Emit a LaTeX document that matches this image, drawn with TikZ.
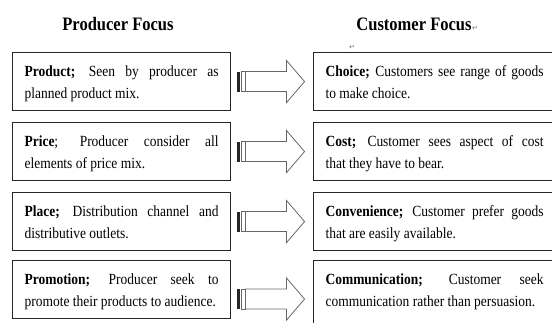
\documentclass[tikz,border=0pt]{standalone}
\usepackage{fontspec}
\setmainfont{Liberation Serif}[FakeStretch=0.87]
\newfontfamily\markfont{DejaVu Sans}
\usetikzlibrary{calc}

\tikzset{
  heading/.style={font=\fontsize{19}{22}\selectfont\bfseries, inner sep=0pt, anchor=base},
  pmark/.style={font=\markfont\fontsize{7}{7}\selectfont, text=black!55, inner sep=0pt},
  mixbox/.style={draw=black!85, line width=1.1pt, anchor=north west, align=justify,
    font=\fontsize{15.5}{22}\selectfont, inner xsep=12pt, inner ysep=12pt,
    text height=12pt, text depth=22pt},
  barrow/.style={draw=black!60, line width=0.8pt, fill=white},
}

% block arrow with two bars at its tail, halfway between two boxes
\newcommand{\mixarrow}[2]{%
  \coordinate (mid) at ($(#1.east)!0.5!(#2.west)$);
  \begin{scope}[shift={(mid)}]
    \fill[black!85] (-35.5,-10) rectangle (-32,10);
    \draw[barrow] (-30.5,-10) rectangle (-26.5,10);
    \draw[barrow] (-26.5,-10) -- (14.5,-10) -- (14.5,-21) -- (32.5,0)
      -- (14.5,21) -- (14.5,10) -- (-26.5,10) -- cycle;
  \end{scope}}

\begin{document}
\begin{tikzpicture}[x=1pt,y=-1pt]

  \useasboundingbox (0,0) rectangle (552,322);
  \clip (0,0) rectangle (552,322);

  \node[heading] (prodhead) at (118,30) {Producer Focus};
  \node[heading] (custhead) at (414,30) {Customer Focus};
  \node[pmark, anchor=base west] at (custhead.base east) {↵};
  \node[pmark] at (352,47) {↵};

  \begin{scope}[every node/.style={mixbox, text width=194pt}]
    \node (p1) at (12,52)  {\textbf{Product;} Seen by producer as\linebreak planned product mix.};
    \node (p2) at (12,122) {\textbf{Price}; Producer consider all\linebreak elements of price mix.};
    \node (p3) at (12,192) {\textbf{Place;} Distribution channel and\linebreak distributive outlets.};
    \node (p4) at (12,260) {\textbf{Promotion;} Producer seek to\linebreak promote their products to audience.};
  \end{scope}

  \begin{scope}[every node/.style={mixbox, text width=218pt}]
    \node (c1) at (313,52)  {\textbf{Choice;} Customers see range of goods\linebreak to make choice.};
    \node (c2) at (313,122) {\textbf{Cost;} Customer sees aspect of cost\linebreak that they have to bear.};
    \node (c3) at (313,192) {\textbf{Convenience;} Customer prefer goods\linebreak that are easily available.};
    \node[text depth=60pt] (c4) at (313,260) {\textbf{Communication;} Customer seek\linebreak communication rather than persuasion.};
  \end{scope}

  \mixarrow{p1}{c1}
  \mixarrow{p2}{c2}
  \mixarrow{p3}{c3}
  \mixarrow{p4}{c4}

\end{tikzpicture}
\end{document}
